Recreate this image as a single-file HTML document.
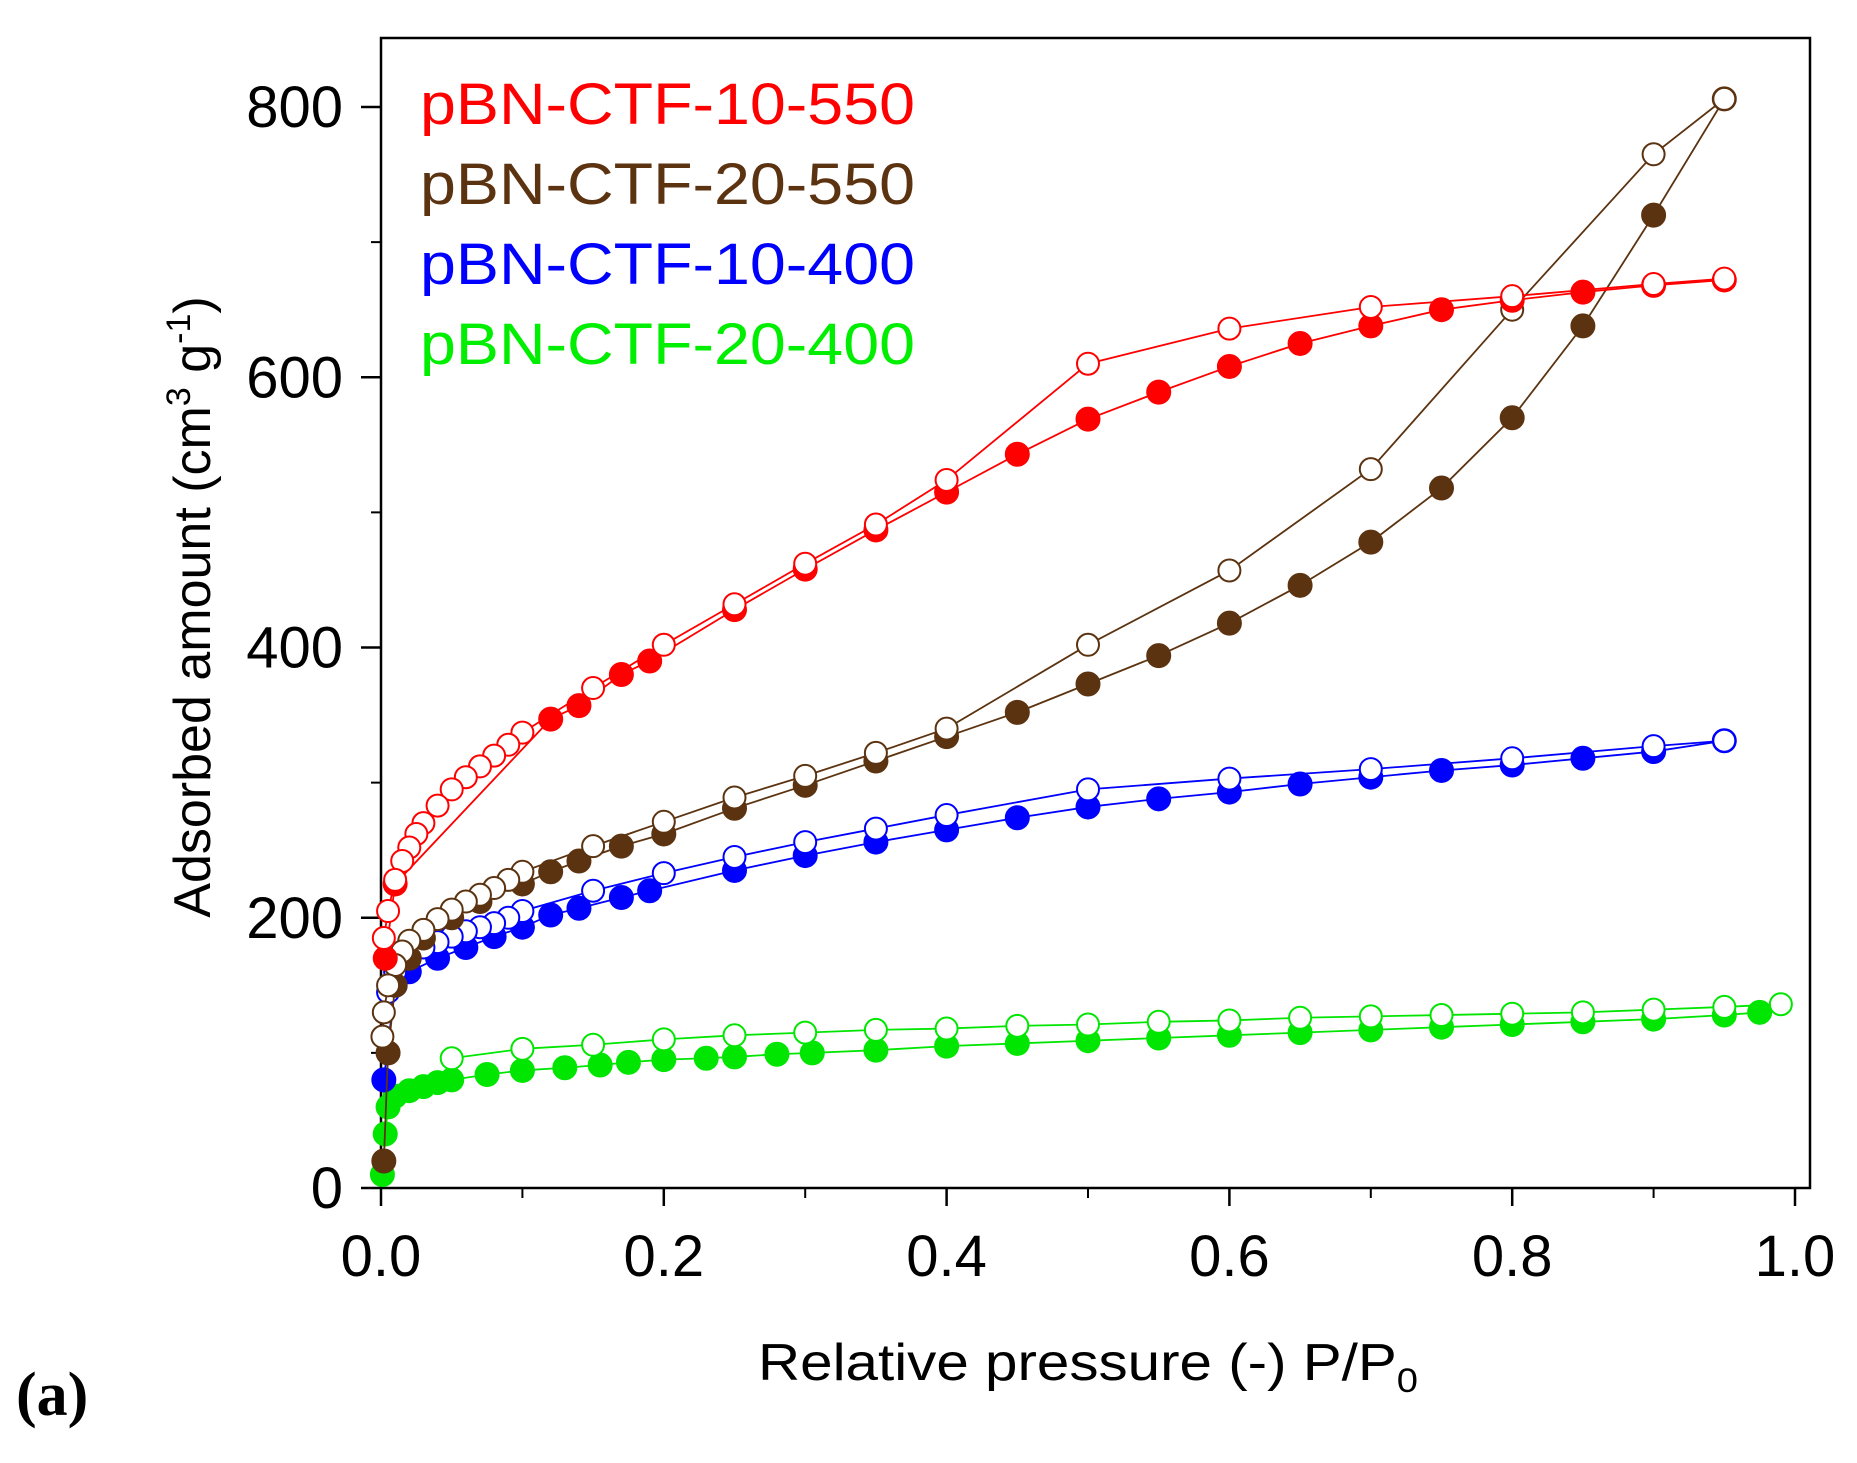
<!DOCTYPE html>
<html><head><meta charset="utf-8"><style>
html,body{margin:0;padding:0;background:#fff;}
svg{display:block;font-family:"Liberation Sans",Arial,sans-serif;}
</style></head><body>
<svg id="chart" width="1857" height="1463" viewBox="0 0 1857 1463" xmlns="http://www.w3.org/2000/svg">
<rect x="0" y="0" width="1857" height="1463" fill="#fff"/>
<rect x="381" y="38" width="1429" height="1150" fill="none" stroke="#000" stroke-width="2.5"/>
<g id="axes"></g>
<g id="series"></g>
<g font-size="58">
<text x="420" y="124" fill="#ff0000" textLength="495" lengthAdjust="spacingAndGlyphs">pBN-CTF-10-550</text>
<text x="420" y="204" fill="#5c3310" textLength="495" lengthAdjust="spacingAndGlyphs">pBN-CTF-20-550</text>
<text x="420" y="284" fill="#0000ff" textLength="495" lengthAdjust="spacingAndGlyphs">pBN-CTF-10-400</text>
<text x="420" y="364" fill="#00ee00" textLength="495" lengthAdjust="spacingAndGlyphs">pBN-CTF-20-400</text>
</g>
<text x="758" y="1380" font-size="52" textLength="660" lengthAdjust="spacingAndGlyphs">Relative pressure (-) P/P<tspan font-size="34" dy="12">0</tspan></text>
<text transform="translate(210,607) rotate(-90)" text-anchor="middle" font-size="52">Adsorbed amount (cm<tspan font-size="34" dy="-20">3</tspan><tspan dy="20"> g</tspan><tspan font-size="34" dy="-20">-1</tspan><tspan dy="20">)</tspan></text>
<text x="16" y="1415" font-size="62" font-family="Liberation Serif,serif" font-weight="bold">(a)</text>
</svg>
<script>
const xTicks=[0,0.2,0.4,0.6,0.8,1.0];
const xTickLabels=["0.0","0.2","0.4","0.6","0.8","1.0"];
const yTicks=[0,200,400,600,800];
const yTickLabels=["0","200","400","600","800"];
const ads1055=[[0.003,170],[0.01,225],[0.12,347],[0.14,357],[0.17,380],[0.19,390],[0.25,428],[0.3,458],[0.35,487],[0.4,515],[0.45,543],[0.5,569],[0.55,589],[0.6,608],[0.65,625],[0.7,638],[0.75,650],[0.8,657],[0.85,663],[0.9,668],[0.95,672]];
const des1055=[[0.95,673],[0.9,669],[0.8,660],[0.7,652],[0.6,636],[0.5,610],[0.4,524],[0.35,491],[0.3,462],[0.25,432],[0.2,402],[0.15,370],[0.1,337],[0.09,328],[0.08,320],[0.07,312],[0.06,304],[0.05,295],[0.04,283],[0.03,270],[0.025,262],[0.02,252],[0.015,242],[0.01,228],[0.005,205],[0.002,185]];
const ads2055=[[0.002,20],[0.005,100],[0.01,150],[0.02,170],[0.03,185],[0.05,200],[0.07,212],[0.1,225],[0.12,234],[0.14,242],[0.17,253],[0.2,262],[0.25,281],[0.3,298],[0.35,316],[0.4,334],[0.45,352],[0.5,373],[0.55,394],[0.6,418],[0.65,446],[0.7,478],[0.75,518],[0.8,570],[0.85,638],[0.9,720],[0.95,806]];
const des2055=[[0.95,806],[0.9,765],[0.8,650],[0.7,532],[0.6,457],[0.5,402],[0.4,340],[0.35,322],[0.3,305],[0.25,289],[0.2,271],[0.15,253],[0.1,234],[0.09,228],[0.08,222],[0.07,217],[0.06,212],[0.05,206],[0.04,199],[0.03,191],[0.02,183],[0.015,175],[0.01,165],[0.005,150],[0.002,130],[0.001,112]];
const ads1040=[[0.002,80],[0.01,150],[0.02,160],[0.04,170],[0.06,178],[0.08,186],[0.1,193],[0.12,202],[0.14,207],[0.17,215],[0.19,220],[0.25,235],[0.3,246],[0.35,256],[0.4,265],[0.45,274],[0.5,282],[0.55,288],[0.6,293],[0.65,299],[0.7,304],[0.75,309],[0.8,313],[0.85,318],[0.9,323],[0.95,331]];
const des1040=[[0.95,331],[0.9,327],[0.8,318],[0.7,310],[0.6,303],[0.5,295],[0.4,276],[0.35,266],[0.3,256],[0.25,245],[0.2,233],[0.15,220],[0.1,205],[0.09,200],[0.08,196],[0.07,193],[0.06,190],[0.05,186],[0.04,182],[0.03,178],[0.02,170],[0.01,160],[0.005,145]];
const ads2040=[[0.001,10],[0.003,40],[0.005,60],[0.01,68],[0.02,72],[0.03,75],[0.04,78],[0.05,80],[0.075,84],[0.1,87],[0.13,89],[0.155,91],[0.175,93],[0.2,95],[0.23,96],[0.25,97],[0.28,99],[0.305,100],[0.35,102],[0.4,105],[0.45,107],[0.5,109],[0.55,111],[0.6,113],[0.65,115],[0.7,117],[0.75,119],[0.8,121],[0.85,123],[0.9,125],[0.95,128],[0.975,130]];
const des2040=[[0.99,136],[0.95,134],[0.9,132],[0.85,130],[0.8,129],[0.75,128],[0.7,127],[0.65,126],[0.6,124],[0.55,123],[0.5,121],[0.45,120],[0.4,118],[0.35,117],[0.3,115],[0.25,113],[0.2,110],[0.15,106],[0.1,103],[0.05,96]];

const NS="http://www.w3.org/2000/svg";
const X0=381,X1=1795,Y0=1188,Y800=107;
function sx(v){return X0+(X1-X0)*v;}
function sy(v){return Y0-(Y0-Y800)*v/800;}
function mk(tag,attrs,parent){const e=document.createElementNS(NS,tag);for(const k in attrs)e.setAttribute(k,attrs[k]);parent.appendChild(e);return e;}
const axes=document.getElementById('axes');
xTicks.forEach((v,i)=>{
  const t=mk('line',{x1:sx(v),x2:sx(v),y1:Y0,y2:Y0+18,stroke:'#000','stroke-width':2.5},axes);
  
  
  const l=mk('text',{x:sx(v),y:1276,'text-anchor':'middle','font-size':58},axes);
  
  
  l.textContent=xTickLabels[i];
  if(i<xTicks.length-1){
    const m=mk('line',{x1:sx(v+0.1),x2:sx(v+0.1),y1:Y0,y2:Y0+10,stroke:'#000','stroke-width':2},axes);
    
    
  }
});
yTicks.forEach((v,i)=>{
  const t=mk('line',{x1:X0-20,x2:X0,y1:sy(v),y2:sy(v),stroke:'#000','stroke-width':2.5},axes);
  
  
  const l=mk('text',{x:343,y:sy(v)+20,'text-anchor':'end','font-size':58},axes);
  
  
  l.textContent=yTickLabels[i];
  if(i<yTicks.length-1){
    const m=mk('line',{x1:X0-10,x2:X0,y1:sy(v+100),y2:sy(v+100),stroke:'#000','stroke-width':2},axes);
    
    
  }
});
const ser=document.getElementById('series');
function draw(data,color,open,name){
  const g=mk('g',{},ser);
  
  
  const p=mk('polyline',{points:data.map(d=>sx(d[0])+','+sy(d[1])).join(' '),fill:'none',stroke:color,'stroke-width':1.8},g);
  
  
  data.forEach(d=>{
    const c=mk('circle',{cx:sx(d[0]),cy:sy(d[1]),r:open?11:12,fill:open?'#fff':color,stroke:color,'stroke-width':open?2:1},g);
    
    
  });
}
draw(ads2040,'#00e600',false,'ads-20-400');
draw(des2040,'#00e600',true,'des-20-400');
draw(ads1040,'#0000ff',false,'ads-10-400');
draw(des1040,'#0000ff',true,'des-10-400');
draw(ads2055,'#5c3310',false,'ads-20-550');
draw(des2055,'#5c3310',true,'des-20-550');
draw(ads1055,'#ff0000',false,'ads-10-550');
draw(des1055,'#ff0000',true,'des-10-550');
</script>
</body></html>
